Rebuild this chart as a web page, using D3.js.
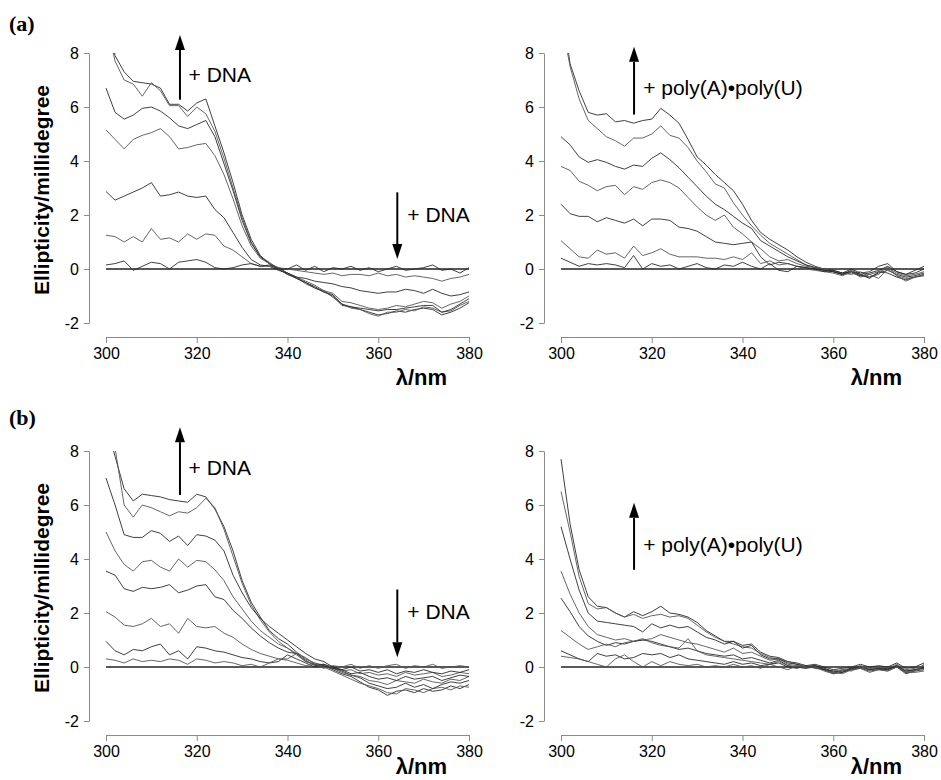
<!DOCTYPE html>
<html>
<head>
<meta charset="utf-8">
<script src="https://cdn.jsdelivr.net/npm/d3@7"></script>
<style>
  body { margin: 0; background: #fff; }
  svg { display: block; }
</style>
</head>
<body>
<div id="chart"></div>
<script>
// wavelength grid (nm) shared by every spectrum
var wavelengths = [300,302,304,306,308,310,312,314,316,318,
                   320,322,324,326,328,330,332,334,336,338,
                   340,342,344,346,348,350,352,354,356,358,
                   360,362,364,366,368,370,372,374,376,378,
                   380];

var xTicks = [300, 320, 340, 360, 380];
var yTicks = [-2, 0, 2, 4, 6, 8];

// (a) left: + DNA titration
var dnaA = [
  [9.5,7.9,7.3,6.95,6.9,6.85,6.7,6.1,6.1,5.85,
   6.15,6.3,5.3,4.3,3.2,2.0,1.1,0.5,0.2,0.05,
   -0.15,-0.35,-0.5,-0.65,-0.85,-1.0,-1.35,-1.4,-1.5,-1.6,
   -1.7,-1.65,-1.55,-1.6,-1.5,-1.45,-1.5,-1.7,-1.6,-1.45,
   -1.25],
  [9.2,7.7,7.0,6.85,6.4,6.9,6.6,6.05,6.05,5.65,
   6.0,5.75,5.1,4.1,3.0,1.9,1.0,0.45,0.25,0.0,
   -0.2,-0.3,-0.55,-0.7,-0.8,-1.05,-1.3,-1.45,-1.5,-1.65,
   -1.75,-1.6,-1.6,-1.5,-1.55,-1.4,-1.45,-1.6,-1.55,-1.35,
   -1.2],
  [6.7,5.8,5.55,5.7,5.95,6.0,5.85,5.6,5.3,5.2,
   5.35,5.5,4.9,3.9,2.9,1.8,0.95,0.45,0.2,0.0,
   -0.2,-0.35,-0.5,-0.7,-0.85,-0.95,-1.3,-1.4,-1.45,-1.5,
   -1.55,-1.5,-1.5,-1.45,-1.4,-1.35,-1.35,-1.6,-1.5,-1.3,
   -1.1],
  [5.15,4.8,4.45,4.8,4.95,5.05,5.2,4.9,4.45,4.5,
   4.6,4.65,4.2,3.5,2.6,1.6,0.85,0.4,0.2,0.0,
   -0.15,-0.3,-0.45,-0.6,-0.8,-0.9,-1.2,-1.25,-1.35,-1.45,
   -1.5,-1.45,-1.35,-1.4,-1.3,-1.2,-1.25,-1.45,-1.3,-1.2,
   -1.0],
  [2.87,2.55,2.7,2.85,3.0,3.2,2.7,2.75,2.85,2.7,
   2.65,2.7,2.2,1.9,1.35,0.8,0.35,0.15,0.1,-0.05,
   -0.15,-0.3,-0.35,-0.45,-0.5,-0.55,-0.65,-0.7,-0.8,-0.85,
   -0.9,-0.85,-0.85,-0.75,-0.8,-0.9,-0.75,-0.9,-1.0,-0.95,
   -0.85],
  [1.25,1.2,1.0,1.2,1.0,1.5,1.1,1.15,1.0,1.3,
   1.1,1.3,1.25,0.85,0.7,0.45,0.2,0.1,0.1,0.05,
   0.0,-0.05,-0.1,-0.15,-0.2,-0.15,-0.25,-0.2,-0.2,-0.25,
   -0.15,-0.25,-0.2,-0.3,-0.25,-0.3,-0.35,-0.45,-0.35,-0.3,
   -0.2],
  [0.15,0.2,0.3,-0.05,0.1,0.25,0.2,0.0,0.25,0.3,
   0.35,0.25,0.05,0.0,0.05,0.15,0.2,0.1,0.15,0.0,
   0.0,0.15,-0.05,0.1,-0.1,0.05,0.0,0.1,-0.05,0.05,
   -0.1,0.0,0.1,-0.05,0.0,0.05,0.15,-0.05,0.0,-0.15,
   0.05]
];

// (a) right: + poly(A)•poly(U) titration
var polyA = [
  [10.0,7.6,6.6,5.8,5.7,5.75,5.45,5.5,5.4,5.5,
   5.55,5.95,5.7,5.4,4.8,4.15,3.85,3.5,3.2,2.9,
   2.4,1.8,1.35,1.1,0.9,0.7,0.45,0.25,0.1,0.0,
   -0.05,-0.15,-0.1,-0.2,-0.15,-0.05,0.1,-0.1,-0.2,-0.15,
   0.0],
  [9.3,7.5,6.3,5.5,5.2,4.9,4.75,4.55,4.85,4.85,
   5.0,5.3,4.95,4.85,4.5,4.0,3.6,3.15,3.0,2.45,
   2.0,1.6,1.25,0.95,0.75,0.55,0.35,0.15,0.05,0.0,
   -0.1,-0.2,-0.15,-0.25,-0.2,-0.1,0.05,-0.15,-0.25,-0.2,
   -0.1],
  [4.9,4.6,4.15,3.95,4.05,3.95,3.8,3.7,3.85,3.8,
   4.1,4.3,4.05,3.75,3.4,3.05,2.7,2.4,2.2,1.95,
   1.7,1.5,1.05,0.85,0.65,0.45,0.3,0.15,0.05,-0.05,
   -0.1,-0.2,-0.1,-0.25,-0.3,-0.15,-0.05,-0.2,-0.3,-0.25,
   -0.15],
  [3.8,3.65,3.25,3.1,2.9,3.05,3.1,2.75,3.05,2.95,
   3.2,3.3,3.2,3.0,2.65,2.3,2.0,1.8,2.0,1.55,
   1.3,1.0,0.75,0.45,0.3,0.35,0.2,0.1,0.05,0.0,
   -0.1,-0.15,-0.2,-0.1,-0.3,-0.2,0.1,-0.25,-0.35,-0.3,
   -0.2],
  [2.4,2.05,1.95,1.95,1.75,1.9,1.8,1.7,1.85,1.6,
   1.85,1.85,1.8,1.55,1.5,1.4,1.2,1.0,0.95,0.9,
   0.95,1.0,0.45,0.15,0.25,0.2,0.1,0.05,0.0,-0.05,
   -0.1,-0.2,-0.05,-0.2,-0.35,-0.1,-0.15,-0.3,-0.4,-0.3,
   -0.25],
  [1.05,0.75,0.45,0.4,0.7,0.55,0.6,0.4,0.85,0.5,
   0.6,0.75,0.55,0.45,0.45,0.45,0.4,0.4,0.35,0.45,
   0.35,0.6,0.2,0.3,0.15,0.2,0.1,0.0,-0.05,-0.1,
   -0.15,-0.25,-0.1,-0.3,-0.2,-0.35,0.0,-0.25,-0.45,-0.3,
   -0.2],
  [0.4,0.25,0.1,0.2,0.15,0.2,0.15,0.05,0.5,0.0,
   0.2,0.1,0.15,0.0,0.1,0.2,0.05,0.0,0.15,0.1,
   0.25,0.1,0.0,0.2,-0.05,-0.1,0.1,0.05,0.0,-0.1,
   -0.05,-0.15,0.0,-0.15,-0.1,0.1,0.2,-0.1,-0.2,-0.05,
   0.1]
];

// (b) left: + DNA titration
var dnaB = [
  [9.0,7.8,6.6,6.15,6.4,6.35,6.3,6.2,6.15,6.1,
   6.4,6.3,5.85,5.2,4.3,3.2,2.4,1.85,1.35,1.05,
   0.85,0.55,0.3,0.15,0.05,-0.1,-0.25,-0.35,-0.55,-0.75,
   -0.85,-1.05,-0.9,-0.85,-0.95,-0.8,-0.9,-0.85,-0.7,-0.8,
   -0.65],
  [9.6,8.1,6.0,5.55,6.0,5.9,5.75,5.6,5.75,5.7,
   5.9,6.25,5.9,5.1,4.1,3.1,2.3,1.75,1.3,0.95,
   0.7,0.5,0.35,0.1,0.0,-0.15,-0.3,-0.45,-0.6,-0.7,
   -0.8,-0.95,-1.0,-0.8,-0.85,-0.95,-0.8,-0.75,-0.85,-0.7,
   -0.75],
  [7.0,6.0,4.9,4.8,4.8,5.05,4.95,4.65,4.85,4.5,
   4.9,4.85,4.7,4.3,3.4,2.75,2.2,1.8,1.5,1.25,
   1.0,0.75,0.5,0.3,0.2,0.0,-0.15,-0.3,-0.4,-0.6,
   -0.7,-0.8,-0.75,-0.6,-0.75,-0.65,-0.8,-0.65,-0.55,-0.6,
   -0.5],
  [5.0,4.3,3.8,3.55,3.9,3.95,3.7,3.55,4.0,3.7,
   3.95,3.9,3.6,3.2,2.6,2.15,1.7,1.35,1.1,0.85,
   0.7,0.45,0.2,0.1,0.1,-0.05,-0.2,-0.3,-0.35,-0.5,
   -0.55,-0.65,-0.5,-0.55,-0.6,-0.45,-0.55,-0.6,-0.45,-0.5,
   -0.35],
  [3.55,3.4,2.9,2.8,2.95,2.9,2.95,3.05,2.75,2.85,
   3.0,3.05,2.6,2.5,2.1,1.8,1.45,1.15,0.9,0.7,
   0.55,0.5,0.25,0.05,0.1,0.0,-0.1,-0.25,-0.2,-0.35,
   -0.45,-0.4,-0.5,-0.35,-0.45,-0.4,-0.35,-0.5,-0.4,-0.3,
   -0.35],
  [2.05,1.85,1.55,1.5,1.6,1.8,1.5,1.6,1.25,1.8,
   1.5,1.45,1.5,1.25,1.1,0.85,0.65,0.5,0.4,0.3,
   0.3,0.5,0.2,0.1,0.0,-0.05,-0.15,-0.1,-0.25,-0.2,
   -0.3,-0.25,-0.35,-0.2,-0.3,-0.25,-0.2,-0.35,-0.3,-0.2,
   -0.25],
  [0.95,0.6,0.45,0.65,0.6,0.75,0.85,0.45,0.6,0.3,
   0.75,0.7,0.6,0.55,0.45,0.35,0.3,0.2,0.15,0.2,
   0.45,0.3,0.15,0.0,0.05,-0.05,-0.1,0.0,-0.15,-0.1,
   -0.2,-0.1,-0.25,-0.15,-0.2,-0.1,-0.2,-0.25,-0.15,-0.2,
   -0.1],
  [0.3,0.25,0.15,0.3,0.2,0.25,0.2,0.3,0.25,0.1,
   0.3,0.25,0.15,0.2,0.15,0.05,0.1,0.0,0.15,0.3,
   0.25,0.15,0.05,0.1,-0.05,0.05,0.0,0.1,-0.05,0.05,
   -0.05,0.05,0.1,-0.05,0.05,0.0,0.1,-0.05,0.0,0.05,
   0.0]
];

// (b) right: + poly(A)•poly(U) titration
var polyB = [
  [7.7,5.3,3.6,2.6,2.25,2.2,2.0,1.85,2.05,1.9,
   2.05,2.25,2.0,1.95,1.85,1.65,1.35,1.15,0.95,0.95,
   0.8,0.85,0.55,0.4,0.35,0.2,0.15,0.05,0.1,0.0,
   -0.1,-0.05,0.0,0.1,0.0,0.05,0.0,0.15,-0.05,0.0,
   0.15],
  [6.5,5.0,3.35,2.35,2.15,2.2,2.0,1.85,1.95,1.8,
   1.9,1.95,1.85,1.9,1.8,1.55,1.3,1.1,0.95,0.85,
   0.75,0.7,0.5,0.35,0.3,0.2,0.1,0.05,0.05,-0.05,
   -0.15,-0.1,-0.05,0.05,-0.05,0.0,-0.05,0.1,-0.1,-0.05,
   0.05],
  [5.2,4.0,2.85,2.0,1.7,1.65,1.6,1.55,1.5,1.3,
   1.6,1.45,1.55,1.45,1.5,1.3,1.1,1.0,0.85,0.95,
   0.7,0.8,0.45,0.3,0.3,0.15,0.1,0.0,0.05,-0.05,
   -0.2,-0.15,-0.05,0.0,-0.1,-0.05,-0.1,0.05,-0.15,-0.1,
   0.0],
  [3.55,2.7,2.0,1.5,1.2,1.1,1.0,1.05,0.95,1.0,
   1.05,1.2,1.1,1.0,0.9,0.85,0.75,0.65,0.55,0.7,
   0.5,0.55,0.4,0.25,0.3,0.1,0.05,0.0,0.0,-0.1,
   -0.2,-0.15,-0.1,0.0,-0.1,-0.05,-0.1,0.05,-0.2,-0.1,
   -0.05],
  [2.55,2.05,1.5,1.15,0.95,0.8,0.9,0.85,0.95,1.0,
   0.95,0.85,0.75,0.65,0.7,0.6,0.5,0.45,0.4,0.45,
   0.3,0.35,0.25,0.15,0.25,0.05,0.0,-0.05,0.05,-0.1,
   -0.25,-0.2,-0.1,-0.05,-0.15,-0.1,-0.05,0.0,-0.25,-0.15,
   -0.1],
  [1.35,1.1,0.85,0.65,0.75,0.85,0.75,0.9,0.95,1.05,
   0.9,0.8,0.75,0.7,1.05,0.6,0.45,0.4,0.35,0.3,
   0.25,0.2,0.15,0.1,0.2,0.05,0.0,-0.05,0.0,-0.1,
   -0.2,-0.25,-0.1,-0.05,-0.2,-0.1,-0.15,0.0,-0.2,-0.2,
   -0.15],
  [0.6,0.45,0.3,0.2,0.5,0.4,0.45,0.3,0.35,0.5,
   0.45,0.5,0.35,0.45,0.3,0.25,0.2,0.15,0.1,0.2,
   0.1,0.15,0.05,0.1,0.15,0.0,-0.05,0.05,-0.05,-0.1,
   -0.15,-0.2,-0.05,0.0,-0.1,-0.05,-0.1,0.05,-0.15,-0.1,
   -0.05],
  [0.4,0.35,0.3,0.2,0.1,0.0,0.3,0.45,0.2,0.0,
   0.2,0.05,0.2,0.1,0.05,0.1,0.0,0.05,0.0,0.1,
   0.0,0.05,-0.05,0.1,0.0,-0.1,0.05,0.0,0.0,-0.15,
   -0.25,-0.1,-0.15,0.0,-0.05,-0.1,-0.15,0.0,-0.2,-0.15,
   0.1]
];

var W = 941, H = 780;
var sansFont = "Arial, 'Liberation Sans', sans-serif";

var svg = d3.select("#chart")
    .append("svg")
    .attr("width", W)
    .attr("height", H)
    .style("font-family", sansFont);

// panel layout and annotation anchors (anchors in data units)
var panels = [
  { curves: dnaA,  x0: 106, y0: 53,  unitY: 385, showYLabel: true,  tag: "(a)", tagY: 31,
    arrows: [ { x: 316.3, from: 6.27, to: 8.67, text: "+ DNA", tx: 318.2, ty: 6.94 },
              { x: 364.2, from: 2.84, to: 0.37, text: "+ DNA", tx: 366.4, ty: 1.73 } ] },
  { curves: polyA, x0: 561, y0: 53,  unitY: 385, showYLabel: false,
    arrows: [ { x: 316.1, from: 5.72, to: 8.23, text: "+ poly(A)\u2022poly(U)", tx: 318.1, ty: 6.46 } ] },
  { curves: dnaB,  x0: 106, y0: 451, unitY: 774, showYLabel: true,  tag: "(b)", tagY: 425,
    arrows: [ { x: 316.3, from: 6.37, to: 8.88, text: "+ DNA", tx: 318.2, ty: 7.11 },
              { x: 364.2, from: 2.87, to: 0.36, text: "+ DNA", tx: 366.4, ty: 1.76 } ] },
  { curves: polyB, x0: 561, y0: 451, unitY: 774, showYLabel: false,
    arrows: [ { x: 316.1, from: 3.6, to: 6.08, text: "+ poly(A)\u2022poly(U)", tx: 318.1, ty: 4.27 } ] }
];

var plotW = 363, plotH = 270;

panels.forEach(function(p, pi) {
    var x = d3.scaleLinear().domain([300, 380]).range([p.x0, p.x0 + plotW]);
    var y = d3.scaleLinear().domain([-2, 8]).range([p.y0 + plotH, p.y0]);

    var clipId = "clip" + pi;
    svg.append("clipPath").attr("id", clipId)
      .append("rect")
        .attr("x", p.x0 - 2).attr("y", p.y0)
        .attr("width", plotW + 6).attr("height", plotH);

    // y axis, pulled left of the data
    var yAxis = svg.append("g")
        .attr("transform", "translate(" + (p.x0 - 17) + ",0)")
        .call(d3.axisLeft(y).tickValues(yTicks).tickSize(5).tickSizeOuter(0).tickPadding(5)
              .tickFormat(function(d) { return String(d); }));
    yAxis.select(".domain").attr("stroke", "#8a8a8a");
    yAxis.selectAll(".tick line").attr("stroke", "#8a8a8a");
    yAxis.selectAll(".tick text").attr("font-size", 16).attr("fill", "#000")
        .style("font-family", sansFont);

    // x axis, pushed below the data
    var xAxis = svg.append("g")
        .attr("transform", "translate(0," + (p.y0 + plotH + 14) + ")")
        .call(d3.axisBottom(x).tickValues(xTicks).tickSize(6).tickSizeOuter(0).tickPadding(5));
    xAxis.select(".domain").attr("stroke", "#8a8a8a");
    xAxis.selectAll(".tick line").attr("stroke", "#8a8a8a");
    xAxis.selectAll(".tick text").attr("font-size", 16).attr("fill", "#000")
        .style("font-family", sansFont);

    svg.append("text")
        .attr("x", x(380) - 22)
        .attr("y", p.unitY)
        .attr("text-anchor", "end")
        .attr("font-size", 22)
        .attr("font-weight", "bold")
        .text("\u03bb/nm");

    if (p.showYLabel) {
        svg.append("text")
            .attr("transform", "translate(49," + (p.y0 + 137) + ") rotate(-90)")
            .attr("text-anchor", "middle")
            .attr("font-size", 21)
            .attr("font-weight", "bold")
            .text("Ellipticity/millidegree");
    }
    if (p.tag) {
        svg.append("text")
            .attr("x", 9).attr("y", p.tagY)
            .attr("font-family", "'Times New Roman', 'Liberation Serif', serif")
            .attr("font-size", 22)
            .attr("font-weight", "bold")
            .text(p.tag);
    }

    // zero baseline
    svg.append("line")
        .attr("x1", x(300)).attr("x2", x(380))
        .attr("y1", y(0)).attr("y2", y(0))
        .attr("stroke", "#222")
        .attr("stroke-width", 1.3);

    var line = d3.line()
        .x(function(d, i) { return x(wavelengths[i]); })
        .y(function(d) { return y(d); });

    svg.append("g")
        .attr("clip-path", "url(#" + clipId + ")")
      .selectAll("path")
      .data(p.curves)
      .enter().append("path")
        .attr("d", line)
        .attr("fill", "none")
        .attr("stroke", function(d, i) { return i % 2 ? "#555" : "#2a2a2a"; })
        .attr("stroke-width", 0.9);

    // titration arrows
    p.arrows.forEach(function(a) {
        var ax = x(a.x), yTail = y(a.from), yTip = y(a.to);
        var dir = yTip < yTail ? 1 : -1;
        var head = 15;
        svg.append("line")
            .attr("x1", ax).attr("x2", ax)
            .attr("y1", yTail).attr("y2", yTip + dir * head)
            .attr("stroke", "#000")
            .attr("stroke-width", 2);
        svg.append("path")
            .attr("d", "M" + ax + "," + yTip +
                       "L" + (ax - 5) + "," + (yTip + dir * head) +
                       "L" + (ax + 5) + "," + (yTip + dir * head) + "Z")
            .attr("fill", "#000");
        svg.append("text")
            .attr("x", x(a.tx))
            .attr("y", y(a.ty))
            .attr("font-size", 21)
            .attr("fill", "#000")
            .text(a.text);
    });
});
</script>
</body>
</html>
